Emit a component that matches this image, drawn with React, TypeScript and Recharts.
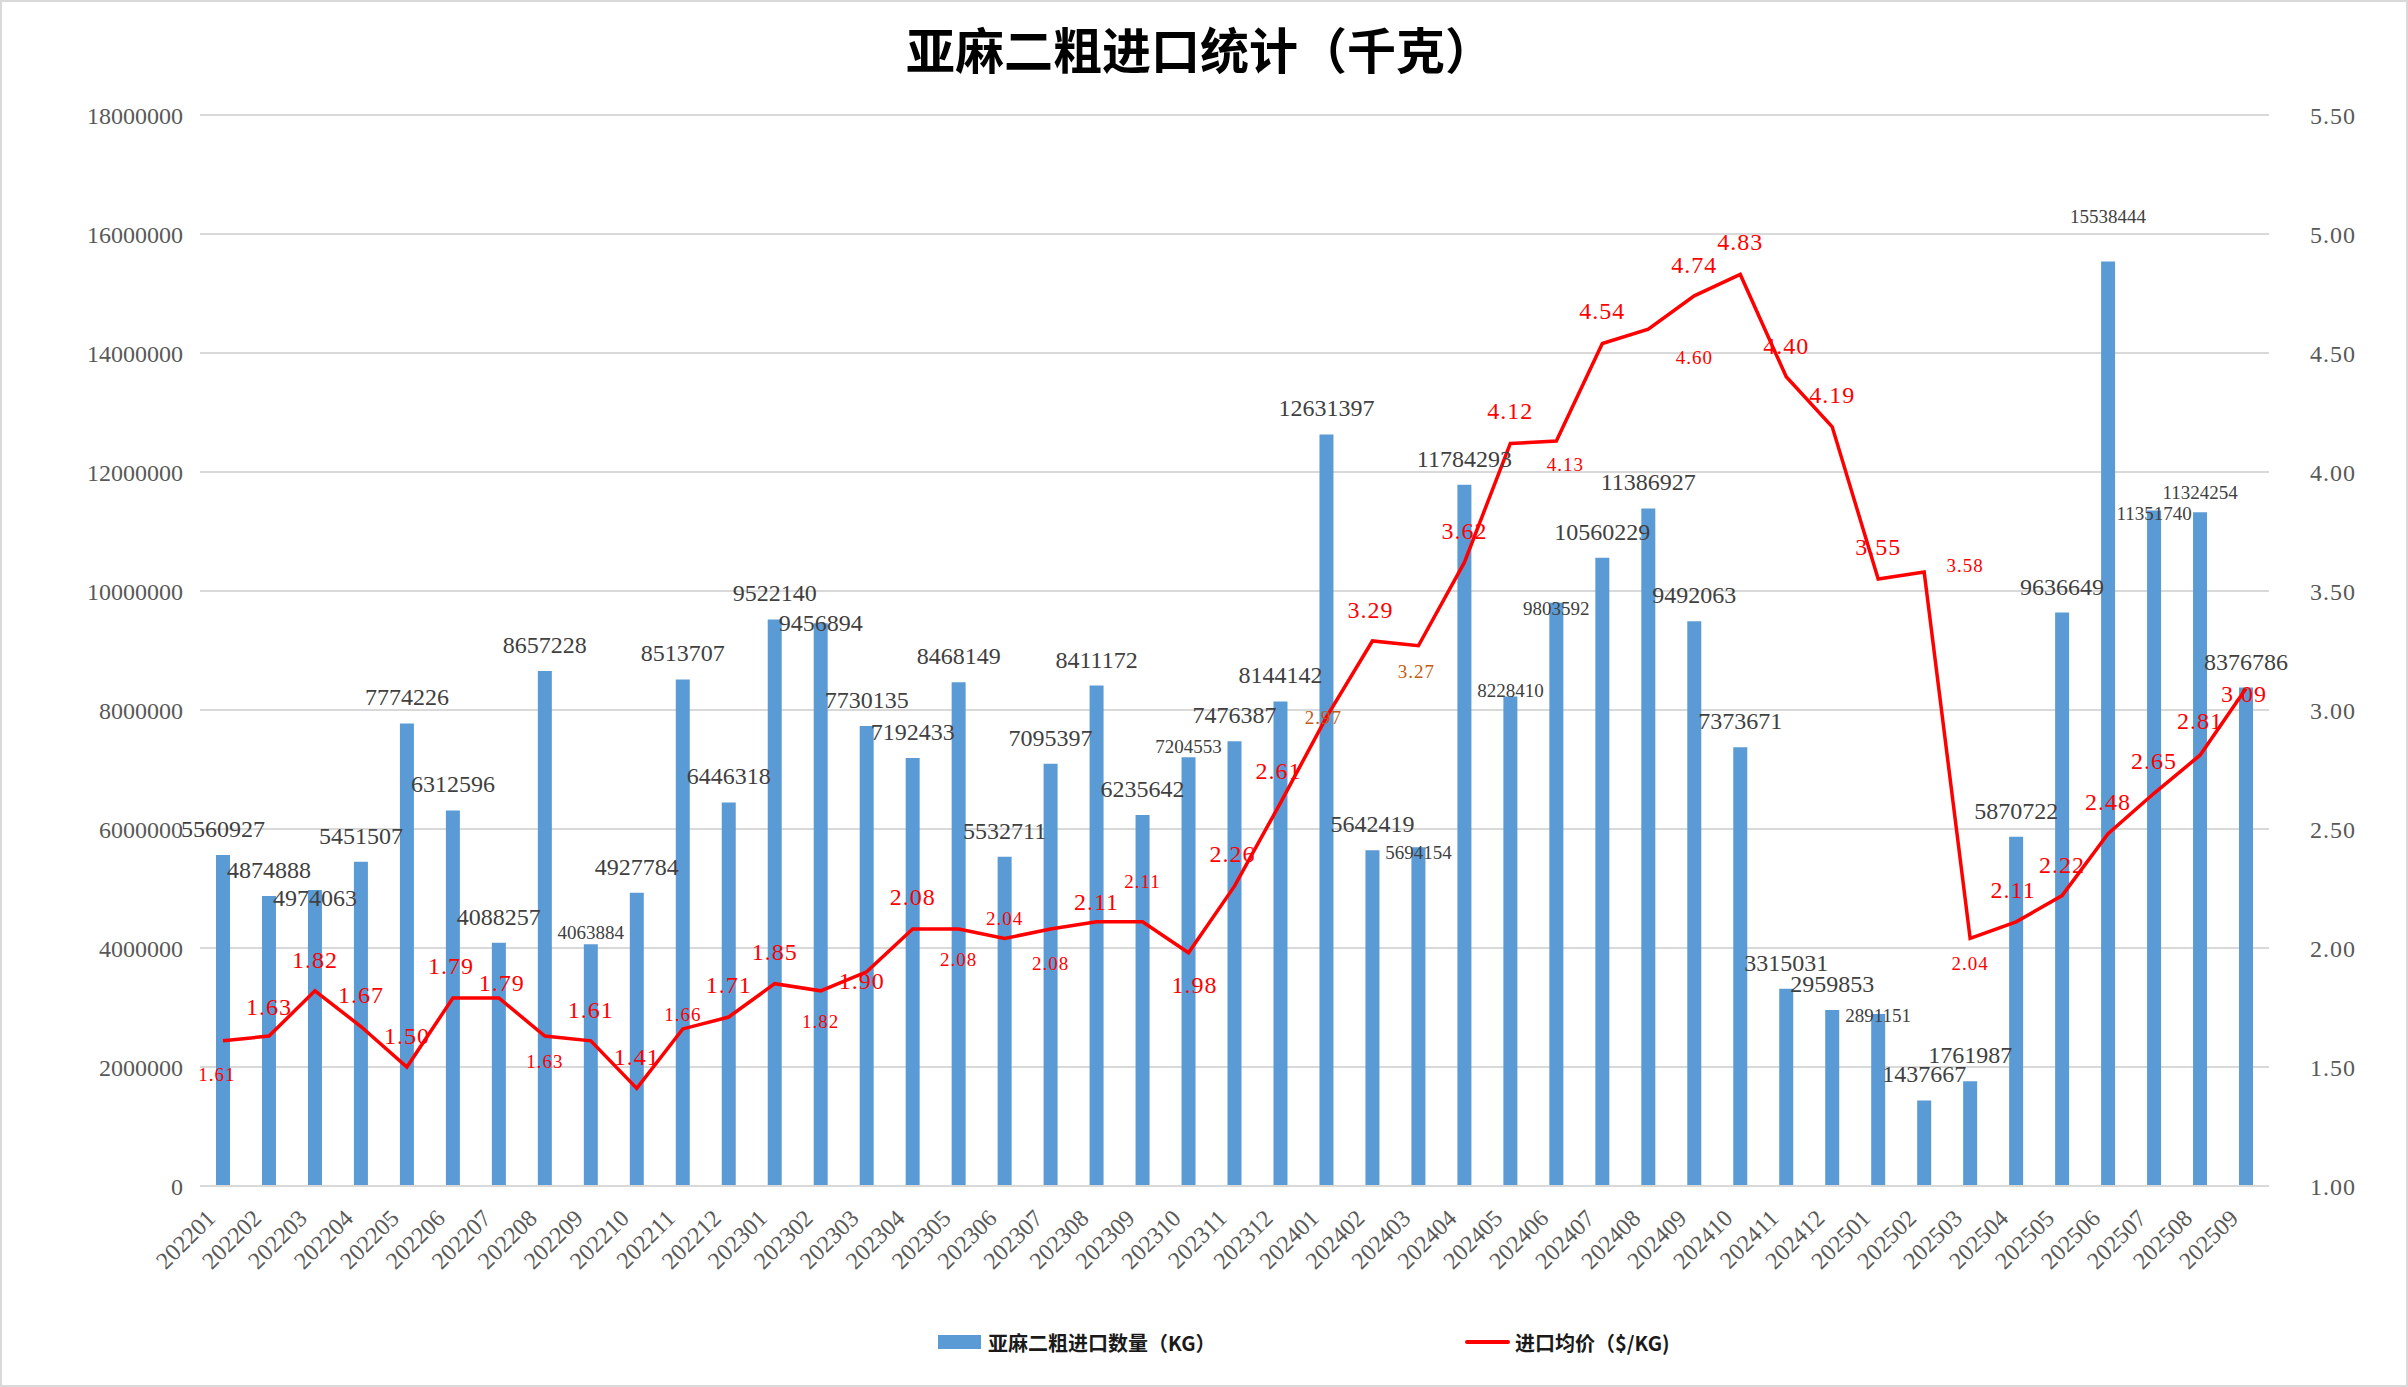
import {
  Bar,
  CartesianGrid,
  ComposedChart,
  LabelList,
  Legend,
  Line,
  XAxis,
  YAxis,
} from 'recharts';

const months = [
  '202201', '202202', '202203', '202204', '202205', '202206', '202207', '202208', '202209',
  '202210', '202211', '202212', '202301', '202302', '202303', '202304', '202305', '202306',
  '202307', '202308', '202309', '202310', '202311', '202312', '202401', '202402', '202403',
  '202404', '202405', '202406', '202407', '202408', '202409', '202410', '202411', '202412',
  '202501', '202502', '202503', '202504', '202505', '202506', '202507', '202508', '202509',
];

const quantity = [
  5560927, 4874888, 4974063, 5451507, 7774226, 6312596, 4088257, 8657228, 4063884,
  4927784, 8513707, 6446318, 9522140, 9456894, 7730135, 7192433, 8468149, 5532711,
  7095397, 8411172, 6235642, 7204553, 7476387, 8144142, 12631397, 5642419, 5694154,
  11784293, 8228410, 9803592, 10560229, 11386927, 9492063, 7373671, 3315031, 2959853,
  2891151, 1437667, 1761987, 5870722, 9636649, 15538444, 11351740, 11324254, 8376786,
];

const price = [
  1.61, 1.63, 1.82, 1.67, 1.5, 1.79, 1.79, 1.63, 1.61,
  1.41, 1.66, 1.71, 1.85, 1.82, 1.9, 2.08, 2.08, 2.04,
  2.08, 2.11, 2.11, 1.98, 2.26, 2.61, 2.97, 3.29, 3.27,
  3.62, 4.12, 4.13, 4.54, 4.6, 4.74, 4.83, 4.4, 4.19,
  3.55, 3.58, 2.04, 2.11, 2.22, 2.48, 2.65, 2.81, 3.09,
];

const qtyTicks = [0, 2000000, 4000000, 6000000, 8000000, 10000000, 12000000, 14000000, 16000000, 18000000];
const priceTicks = [1, 1.5, 2, 2.5, 3, 3.5, 4, 4.5, 5, 5.5];

const data = months.map((m, i) => ({ month: m, qty: quantity[i], price: price[i] }));

const SERIF = '"Liberation Serif", "Noto Serif CJK SC", serif';
const CJK = '"Noto Sans CJK SC", sans-serif';
const AXIS_GRAY = '#595959';
const GRID = '#D9D9D9';

// hand-placed labels in the source sheet: [dx, dy, small]
const PRICE_NUDGE: [number, number, number][] = [
  [-6, 34, 1], [0, -29, 0], [0, -31, 0], [0, -32, 0], [0, -31, 0], [-2, -32, 0], [3, -15, 0], [0, 25, 1], [0, -31, 0],
  [0, -31, 0], [0, -14, 1], [0, -32, 0], [0, -32, 0], [0, 31, 1], [-5, 9, 0], [0, -32, 0], [0, 31, 1], [0, -20, 1],
  [0, 35, 1], [0, -20, 0], [0, -40, 1], [6, 32, 0], [-2, -32, 0], [-2, -32, 0], [-3, 0, 1], [-2, -31, 0], [-2, 26, 1],
  [0, -31, 0], [0, -32, 0], [9, 23, 1], [0, -32, 0], [46, 28, 1], [0, -31, 0], [0, -32, 0], [0, -31, 0], [0, -32, 0],
  [0, -32, 0], [41, -6, 1], [0, 25, 1], [-3, -32, 0], [0, -31, 0], [0, -32, 0], [0, -32, 0], [0, -34, 0], [-2, 5, 0],
];
const ORANGE = new Set([24, 26]);

const QTY_NUDGE: Record<number, [number, number]> = {
  2: [8, 0], 8: [-12, 1], 13: [0, 0], 21: [-11, 1], 26: [5, 1], 28: [-6, 1],
  29: [6, 1], 36: [2, 1], 41: [-45, 1], 42: [3, 1], 43: [-20, 1],
};

function QtyLabel(props: any) {
  const vb = props.viewBox || {};
  const x = props.x ?? vb.x;
  const y = props.y ?? vb.y;
  const w = props.width ?? vb.width;
  const i = props.index;
  const [dy, small] = QTY_NUDGE[i] ?? [-26, 0];
  return (
    <text
      x={x + w / 2}
      y={y + dy}
      textAnchor="middle"
      dominantBaseline="central"
      fontFamily={SERIF}
      fontSize={small ? 19 : 24}
      fill="#404040"
    >
      {props.value}
    </text>
  );
}

function PriceLabel(props: any) {
  const i = props.index;
  const [dx, dy, small] = PRICE_NUDGE[i] ?? [0, -31, 0];
  return (
    <text
      x={props.x + dx}
      y={props.y + dy}
      textAnchor="middle"
      dominantBaseline="central"
      fontFamily={SERIF}
      fontSize={small ? 19 : 24}
      letterSpacing={1}
      fill={ORANGE.has(i) ? '#C55A11' : '#FF0000'}
    >
      {Number(props.value).toFixed(2)}
    </text>
  );
}

function MonthTick({ x, y, payload }: any) {
  return (
    <text
      x={0}
      y={0}
      transform={`translate(${x - 12},${y + 20}) rotate(-45)`}
      textAnchor="end"
      dominantBaseline="central"
      fontFamily={SERIF}
      fontSize={24}
      fill={AXIS_GRAY}
    >
      {payload.value}
    </text>
  );
}

function LegendContent() {
  const item = { position: 'absolute' as const, top: 0, height: 60, display: 'flex', alignItems: 'center' };
  const label = { fontFamily: CJK, fontWeight: 700, fontSize: 20, color: '#1a1a1a', marginLeft: 7 };
  return (
    <div style={{ position: 'relative', width: 2408, height: 60 }}>
      <div style={{ ...item, left: 938 }}>
        <div style={{ width: 43, height: 14, background: '#5B9BD5' }} />
        <span style={label}>亚麻二粗进口数量（KG）</span>
      </div>
      <div style={{ ...item, left: 1465 }}>
        <div style={{ width: 45, height: 4, background: '#FF0000', borderRadius: 2 }} />
        <span style={{ ...label, marginLeft: 5 }}>进口均价（$/KG)</span>
      </div>
    </div>
  );
}

export default function App() {
  return (
    <div style={{ position: 'absolute', left: 0, top: 0, width: 2408, height: 1387, background: '#fff' }}>
      <div
        style={{
          position: 'absolute',
          left: 0,
          top: 22,
          width: 2400,
          textAlign: 'center',
          fontFamily: CJK,
          fontWeight: 700,
          fontSize: 49,
          lineHeight: '52px',
          color: '#000',
        }}
      >
        亚麻二粗进口统计（千克）
      </div>
      <ComposedChart
        width={2408}
        height={1387}
        data={data}
        margin={{ top: 115, right: 19, bottom: 15, left: 10 }}
      >
        <CartesianGrid yAxisId="left" vertical={false} stroke={GRID} strokeWidth={2} />
        <XAxis
          dataKey="month"
          interval={0}
          height={126}
          tick={<MonthTick />}
          tickLine={false}
          axisLine={{ stroke: GRID, strokeWidth: 2 }}
        />
        <YAxis
          yAxisId="left"
          width={190}
          domain={[0, 18000000]}
          ticks={qtyTicks}
          interval={0}
          axisLine={false}
          tickLine={false}
          tickMargin={11}
          tick={{ fontFamily: SERIF, fontSize: 24, fill: AXIS_GRAY }}
        />
        <YAxis
          yAxisId="right"
          orientation="right"
          width={120}
          domain={[1, 5.5]}
          ticks={priceTicks}
          interval={0}
          axisLine={false}
          tickLine={false}
          tickMargin={35}
          tickFormatter={(v: number) => v.toFixed(2)}
          tick={{ fontFamily: SERIF, fontSize: 24, fill: AXIS_GRAY, letterSpacing: 1 }}
        />
        <Legend verticalAlign="bottom" height={60} content={<LegendContent />} wrapperStyle={{ left: 0, width: 2408 }} />
        <Bar yAxisId="left" dataKey="qty" fill="#5B9BD5" barSize={14} isAnimationActive={false}>
          <LabelList dataKey="qty" content={<QtyLabel />} />
        </Bar>
        <Line
          yAxisId="right"
          type="linear"
          dataKey="price"
          stroke="#FF0000"
          strokeWidth={3.5}
          dot={false}
          activeDot={false}
          isAnimationActive={false}
        >
          <LabelList dataKey="price" content={<PriceLabel />} />
        </Line>
      </ComposedChart>
      <div
        style={{
          position: 'absolute',
          inset: 0,
          border: `2px solid ${GRID}`,
          pointerEvents: 'none',
        }}
      />
    </div>
  );
}
